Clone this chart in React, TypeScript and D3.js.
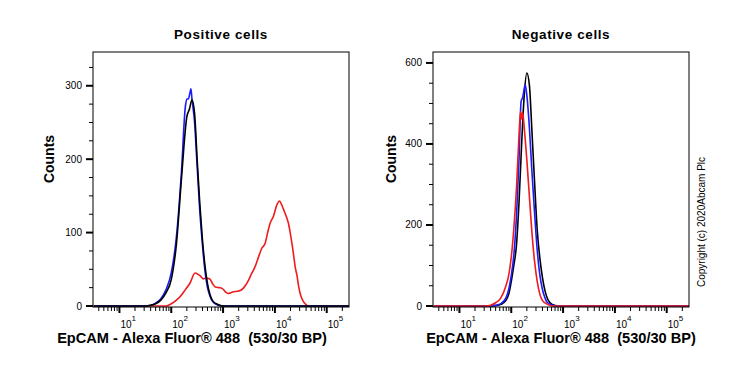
import React from "react";
import * as d3 from "d3";

// fluorescence intensity / counts
const posRed: [number, number][] = [
  [3.2, 0], [79, 0], [100, 3], [126, 8], [158, 15], [186, 22], [229, 31], [288, 45],
  [331, 43], [363, 41], [417, 37], [457, 38], [550, 37], [631, 30], [708, 26], [832, 25],
  [955, 24], [1122, 19], [1259, 17], [1413, 18], [1585, 19.5], [1862, 20], [2138, 21],
  [2512, 25], [3090, 35], [3548, 44], [4169, 54], [5012, 70], [5623, 79], [6457, 85],
  [7244, 100], [8128, 113], [9333, 122], [10965, 138], [12303, 143], [13490, 138],
  [14791, 131], [16596, 122], [18197, 113], [19953, 98], [21380, 85], [22909, 70],
  [24547, 54], [26915, 40], [28840, 26], [31623, 14], [35481, 6], [39811, 2], [44668, 0],
  [269153, 0],
];
const posBlue: [number, number][] = [
  [3.2, 0], [32, 0], [40, 1], [50, 4], [63, 10], [79, 22], [100, 45], [126, 95],
  [158, 185], [186, 270], [200, 282], [214, 282], [229, 290], [240, 296], [251, 282],
  [282, 250], [316, 190], [355, 130], [398, 85], [447, 48], [501, 25], [562, 13],
  [631, 6], [794, 1], [1000, 0], [269153, 0],
];
const posBlack: [number, number][] = [
  [3.2, 0], [32, 0], [40, 1], [50, 3], [63, 8], [79, 18], [100, 36], [126, 85],
  [158, 175], [200, 258], [224, 268], [251, 281], [282, 262], [316, 200], [355, 140],
  [398, 92], [447, 55], [501, 30], [562, 15], [631, 7], [794, 2], [1000, 0], [269153, 0],
];

const negBlack: [number, number][] = [
  [3.2, 0], [40, 0], [50, 1], [63, 4], [79, 14], [89, 28], [100, 60], [112, 100],
  [126, 150], [141, 255], [158, 395], [178, 520], [200, 575], [224, 545], [251, 430],
  [282, 305], [316, 190], [355, 120], [398, 72], [447, 38], [501, 18], [562, 8],
  [631, 3], [794, 0], [269153, 0],
];
const negBlue: [number, number][] = [
  [3.2, 0], [40, 0], [50, 2], [63, 6], [79, 20], [89, 40], [100, 75], [112, 125],
  [126, 220], [141, 360], [155, 505], [166, 515], [186, 546], [200, 520], [224, 440],
  [251, 330], [282, 230], [316, 140], [355, 78], [398, 42], [447, 20], [501, 8],
  [631, 2], [794, 0], [269153, 0],
];
const negRed: [number, number][] = [
  [3.2, 0], [32, 0], [40, 2], [50, 8], [63, 20], [79, 50], [89, 75], [100, 120],
  [112, 190], [126, 290], [141, 420], [151, 480], [158, 462], [166, 478], [178, 440],
  [200, 360], [224, 270], [251, 180], [282, 110], [316, 62], [355, 30], [398, 14],
  [501, 4], [631, 0], [269153, 0],
];

const xDomain: [number, number] = [3.09, 269153];
const xMajor = [10, 100, 1000, 10000, 100000];
const xTickExp = ["1", "2", "3", "4", "5"];

const posYMax = 346;
const posYMajor = [0, 100, 200, 300];
const posYMinorStep = 25;
const negYMax = 627;
const negYMajor = [0, 200, 400, 600];
const negYMinorStep = 50;

const FONT = "'Liberation Sans', Arial, sans-serif";

type Series = { data: [number, number][]; color: string };

function Panel(props: {
  left: number;
  title: string;
  labelX: number;
  countsX: number;
  yMax: number;
  yMajor: number[];
  yMinorStep: number;
  series: Series[];
}) {
  const { left, title, labelX, countsX, yMax, yMajor, yMinorStep, series } = props;
  const top = 52;
  const right = left + 256;
  const bottom = 307;

  const x = d3.scaleLog().domain(xDomain).range([left, right]);
  const y = d3.scaleLinear().domain([0, yMax]).range([306, top]);

  const line = d3
    .line<[number, number]>()
    .x((d) => x(d[0]))
    .y((d) => y(d[1]))
    .curve(d3.curveMonotoneX);

  const minorX: number[] = [];
  for (let e = 0; e <= 5; e++) {
    for (let m = 2; m <= 9; m++) {
      const v = m * Math.pow(10, e);
      if (v > xDomain[0] && v < xDomain[1]) minorX.push(v);
    }
  }
  const minorY: number[] = [];
  for (let v = 0; v <= yMax; v += yMinorStep) {
    if (!yMajor.includes(v)) minorY.push(v);
  }

  return (
    <g>
      <text
        x={(left + right) / 2}
        y={39}
        textAnchor="middle"
        fontFamily={FONT}
        fontWeight="bold"
        fontSize={13.5}
        letterSpacing={0.6}
      >
        {title}
      </text>
      {series.map((s, i) => (
        <path key={i} d={line(s.data) || ""} fill="none" stroke={s.color} strokeWidth={1.6} />
      ))}
      <rect x={left} y={top} width={right - left} height={bottom - top} fill="none" stroke="#000" strokeWidth={1} />
      {/* y axis */}
      {yMajor.map((v) => (
        <g key={"ym" + v}>
          <line x1={left - 7} x2={left} y1={y(v)} y2={y(v)} stroke="#000" strokeWidth={2} />
          <text x={left - 11} y={y(v) + 3.5} textAnchor="end" fontFamily={FONT} fontSize={10}>
            {v}
          </text>
        </g>
      ))}
      {minorY.map((v) => (
        <line key={"yn" + v} x1={left - 4} x2={left} y1={y(v)} y2={y(v)} stroke="#000" strokeWidth={1} />
      ))}
      {/* x axis */}
      {minorX.map((v) => (
        <line key={"xn" + v} x1={x(v)} x2={x(v)} y1={bottom} y2={bottom + 4} stroke="#000" strokeWidth={1} />
      ))}
      {xMajor.map((v, i) => (
        <g key={"xm" + v}>
          <line x1={x(v)} x2={x(v)} y1={bottom} y2={bottom + 6} stroke="#000" strokeWidth={2} />
          <text x={x(v) + 1} y={328} fontFamily={FONT} fontSize={10}>
            10
            <tspan fontSize={8} dy={-7}>
              {xTickExp[i]}
            </tspan>
          </text>
        </g>
      ))}
      <text
        x={labelX}
        y={343}
        textAnchor="middle"
        fontFamily={FONT}
        fontWeight="bold"
        fontSize={14.6}
        style={{ whiteSpace: "pre" }}
      >
        {"EpCAM - Alexa Fluor® 488  (530/30 BP)"}
      </text>
      <text
        transform={`translate(${countsX},159) rotate(-90)`}
        textAnchor="middle"
        fontFamily={FONT}
        fontWeight="bold"
        fontSize={14}
      >
        Counts
      </text>
    </g>
  );
}

export default function App() {
  return (
    <svg
      width={739}
      height={370}
      style={{ position: "absolute", left: 0, top: 0, background: "#fff" }}
    >
      <rect width={739} height={370} fill="#fff" />
      <Panel
        left={93}
        title="Positive cells"
        labelX={192}
        countsX={54}
        yMax={posYMax}
        yMajor={posYMajor}
        yMinorStep={posYMinorStep}
        series={[
          { data: posRed, color: "#ee1c1c" },
          { data: posBlue, color: "#1a1aff" },
          { data: posBlack, color: "#000" },
        ]}
      />
      <Panel
        left={433}
        title="Negative cells"
        labelX={561}
        countsX={396}
        yMax={negYMax}
        yMajor={negYMajor}
        yMinorStep={negYMinorStep}
        series={[
          { data: negBlack, color: "#000" },
          { data: negBlue, color: "#1a1aff" },
          { data: negRed, color: "#ee1c1c" },
        ]}
      />
      <text
        transform="translate(705,222) rotate(-90)"
        textAnchor="middle"
        fontFamily={FONT}
        fontSize={10}
      >
        Copyright (c) 2020Abcam Plc
      </text>
    </svg>
  );
}
